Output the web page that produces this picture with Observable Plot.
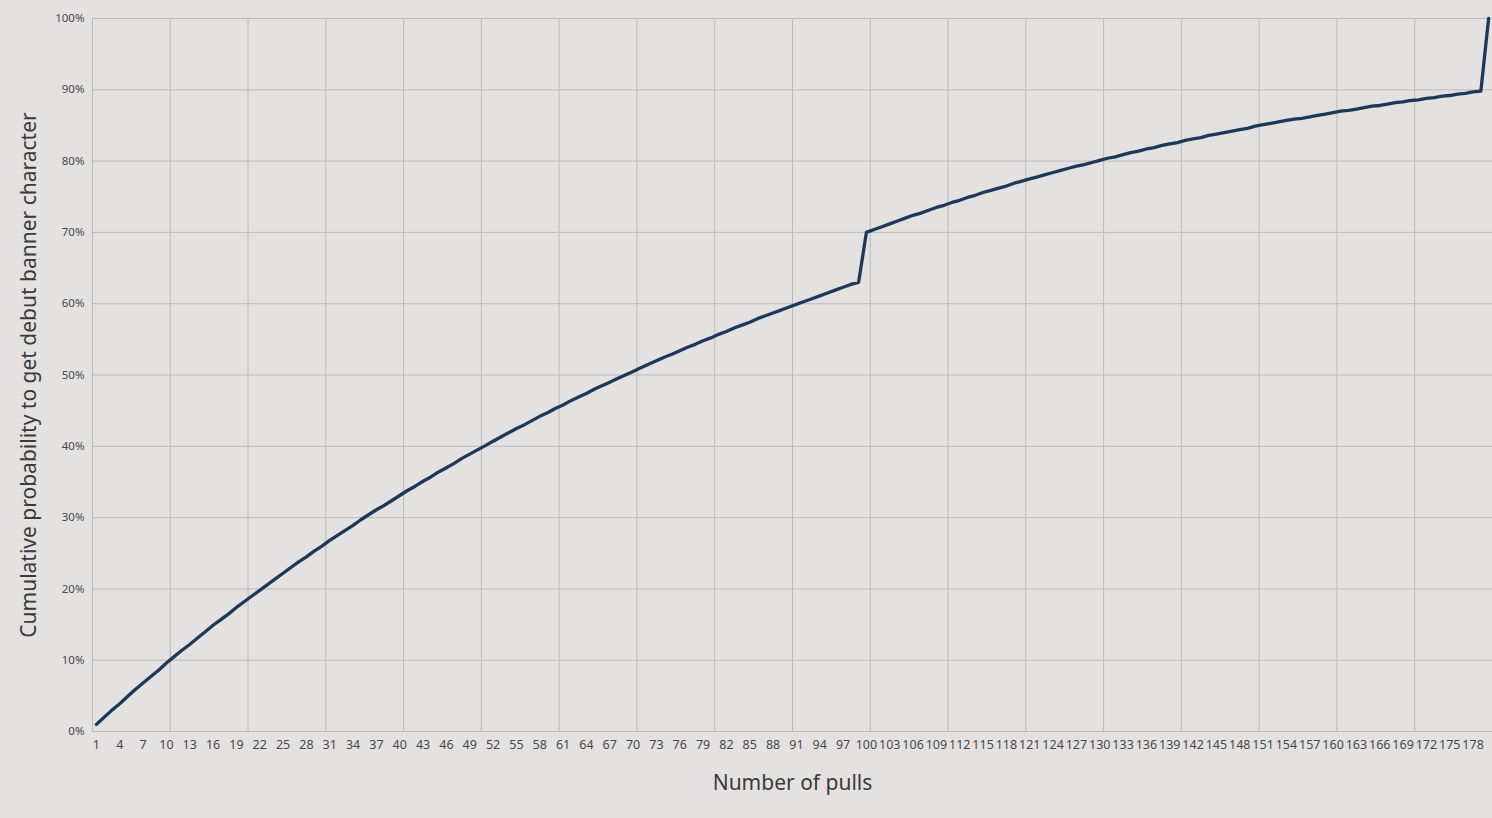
<!DOCTYPE html>
<html>
<head>
<meta charset="utf-8">
<script src="https://cdn.jsdelivr.net/npm/d3@7"></script>
<script src="https://cdn.jsdelivr.net/npm/@observablehq/plot@0.6"></script>
<style>
  html, body { margin: 0; padding: 0; background: #e3e2e1; }
  #chart { width: 1492px; height: 818px; overflow: hidden; }
</style>
</head>
<body>
<div id="chart"></div>
<script>
// Cumulative probability (%) for pull 1..180
const probability = [
  1.0, 2.0, 3.0, 3.9, 4.9, 5.9, 6.8, 7.7, 8.6, 9.6,
  10.5, 11.4, 12.2, 13.1, 14.0, 14.9, 15.7, 16.5, 17.4, 18.2,
  19.0, 19.8, 20.6, 21.4, 22.2, 23.0, 23.8, 24.5, 25.3, 26.0,
  26.8, 27.5, 28.2, 28.9, 29.7, 30.4, 31.1, 31.7, 32.4, 33.1,
  33.8, 34.4, 35.1, 35.7, 36.4, 37.0, 37.6, 38.3, 38.9, 39.5,
  40.1, 40.7, 41.3, 41.9, 42.5, 43.0, 43.6, 44.2, 44.7, 45.3,
  45.8, 46.4, 46.9, 47.4, 48.0, 48.5, 49.0, 49.5, 50.0, 50.5,
  51.0, 51.5, 52.0, 52.5, 52.9, 53.4, 53.9, 54.3, 54.8, 55.2,
  55.7, 56.1, 56.6, 57.0, 57.4, 57.9, 58.3, 58.7, 59.1, 59.5,
  59.9, 60.3, 60.7, 61.1, 61.5, 61.9, 62.3, 62.7, 63.0, 70.0,
  70.4, 70.8, 71.2, 71.6, 72.0, 72.4, 72.7, 73.1, 73.5, 73.8,
  74.2, 74.5, 74.9, 75.2, 75.6, 75.9, 76.2, 76.5, 76.9, 77.2,
  77.5, 77.8, 78.1, 78.4, 78.7, 79.0, 79.3, 79.5, 79.8, 80.1,
  80.4, 80.6, 80.9, 81.2, 81.4, 81.7, 81.9, 82.2, 82.4, 82.6,
  82.9, 83.1, 83.3, 83.6, 83.8, 84.0, 84.2, 84.4, 84.6, 84.9,
  85.1, 85.3, 85.5, 85.7, 85.9, 86.0, 86.2, 86.4, 86.6, 86.8,
  87.0, 87.1, 87.3, 87.5, 87.7, 87.8, 88.0, 88.2, 88.3, 88.5,
  88.6, 88.8, 88.9, 89.1, 89.2, 89.4, 89.5, 89.7, 89.8, 100.0
];

// X tick labels shown (every third pull)
const xTickLabels = [
  1, 4, 7, 10, 13, 16, 19, 22, 25, 28, 31, 34, 37, 40, 43, 46, 49, 52, 55, 58,
  61, 64, 67, 70, 73, 76, 79, 82, 85, 88, 91, 94, 97, 100, 103, 106, 109, 112, 115, 118,
  121, 124, 127, 130, 133, 136, 139, 142, 145, 148, 151, 154, 157, 160, 163, 166, 169, 172, 175, 178
];

// Vertical gridlines at category boundaries (every 10 pulls)
const xGridLines = [0.5, 10.5, 20.5, 30.5, 40.5, 50.5, 60.5, 70.5, 80.5, 90.5,
  100.5, 110.5, 120.5, 130.5, 140.5, 150.5, 160.5, 170.5, 180.5];

// Y ticks (percent)
const yTicks = [0, 10, 20, 30, 40, 50, 60, 70, 80, 90, 100];

const xTitle = "Number of pulls";
const yTitle = "Cumulative probability to get debut banner character";

const points = probability.map((p, i) => ({pull: i + 1, p}));

const chart = Plot.plot({
  width: 1492,
  height: 818,
  marginLeft: 92,
  marginRight: 0,
  marginTop: 18,
  marginBottom: 87,
  style: {background: "transparent", fontFamily: "'Noto Sans', 'Open Sans', sans-serif", color: "#4a4a4a"},
  x: {domain: [0.5, 180.5], axis: null},
  y: {domain: [0, 100], axis: null},
  marks: [
    Plot.ruleX(xGridLines, {stroke: "#bbbbbb", strokeWidth: 1}),
    Plot.ruleY(yTicks, {stroke: "#bbbbbb", strokeWidth: 1}),
    Plot.axisX(xTickLabels, {tickSize: 0, tickPadding: 9, fontSize: 12.5, fill: "#484848", label: null}),
    Plot.axisY(yTicks, {tickSize: 0, tickPadding: 8, fontSize: 11.5, fill: "#484848", tickFormat: d => d + "%", label: null}),
    Plot.lineY(points, {x: "pull", y: "p", stroke: "#1d3858", strokeWidth: 3.3, strokeLinejoin: "round"}),
    Plot.text([xTitle], {frameAnchor: "bottom", dy: 52, fontSize: 21, fill: "#3a3a3a", textAnchor: "middle", lineAnchor: "middle"}),
    Plot.text([yTitle], {frameAnchor: "left", dx: -63, rotate: -90, fontSize: 21, fill: "#3a3a3a", textAnchor: "middle", lineAnchor: "middle"})
  ]
});

document.getElementById("chart").appendChild(chart);
</script>
</body>
</html>
